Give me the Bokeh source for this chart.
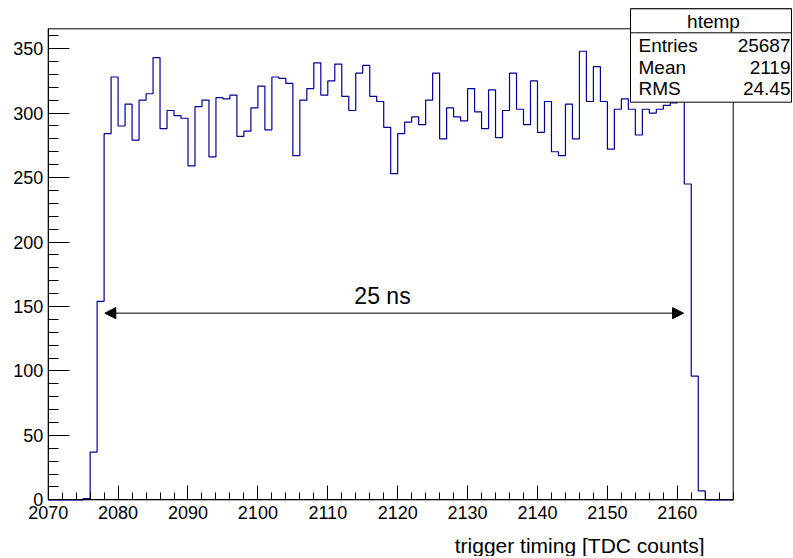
from bokeh.plotting import figure
from bokeh.models import (Range1d, SingleIntervalTicker, Label, BoxAnnotation,
                          Arrow, NormalHead, LinearAxis)
from bokeh.embed import file_html
from bokeh.resources import INLINE

# ---- data ----
bin_low = list(range(2070, 2168))
counts = [0, 0, 0, 0, 0, 1, 37, 154, 284, 328,
          290, 307, 279, 310, 315, 343, 288, 302, 298, 296,
          259, 305, 310, 266, 312, 311, 314, 282, 286, 304,
          321, 287, 328, 327, 323, 267, 310, 319, 339, 314,
          325, 338, 313, 302, 331, 337, 313, 309, 289, 253,
          284, 293, 297, 291, 310, 331, 280, 304, 297, 294,
          319, 301, 288, 318, 281, 302, 331, 303, 291, 325,
          285, 309, 270, 267, 307, 280, 348, 309, 336, 309,
          272, 303, 311, 303, 283, 303, 300, 303, 306, 308,
          312, 245, 96, 7, 0, 0, 0, 0]
stat_names = ["Entries", "Mean", "RMS"]
stat_values = ["25687", "2119", "24.45"]
hist_name = "htemp"
x_title = "trigger timing [TDC counts]"
arrow_text = "25 ns"
arrow_from = 2078.1
arrow_to = 2160.9
arrow_y = 144.8

FONT = "Liberation Sans"

# ---- layout (pixels) ----
W, H = 792, 556
FL, FR, FT, FB = 47.7, 732.7, 28.3, 499.3   # frame edges in pixels

xmin, xmax = 2070, 2168
ymin, ymax = 0, max(counts) * 1.05
sx = (FR - FL) / (xmax - xmin)
sy = (FB - FT) / (ymax - ymin)

x_range = Range1d(xmin - FL / sx, xmin + (W - FL) / sx)
y_range = Range1d(ymin - (H - FB) / sy, ymin + FB / sy)

def dx(px):
    return xmin + (px - FL) / sx

def dy(py):
    return ymin + (FB - py) / sy

p = figure(width=W, height=H, output_backend="svg", toolbar_location=None,
           x_range=x_range, y_range=y_range, x_axis_type=None, y_axis_type=None,
           min_border=0, min_border_left=0, min_border_right=0,
           min_border_top=0, min_border_bottom=0)
p.background_fill_color = "white"
p.border_fill_color = "white"
p.outline_line_color = None
p.grid.visible = False

# frame box
p.add_layout(BoxAnnotation(left=xmin, right=xmax, bottom=ymin, top=ymax,
                           fill_color=None, line_color="black", line_width=1,
                           line_alpha=1.0, level="underlay"))

# histogram
edges = bin_low + [bin_low[-1] + 1]
yy = counts + [counts[-1]]
p.step(edges, yy, mode="after", line_color="#000099", line_width=1.2)

# axes
xaxis = LinearAxis(fixed_location=ymin, bounds=(xmin, xmax),
                   ticker=SingleIntervalTicker(interval=10, num_minor_ticks=5))
yaxis = LinearAxis(fixed_location=xmin, bounds=(ymin, ymax),
                   ticker=SingleIntervalTicker(interval=50, num_minor_ticks=5))
for ax in (xaxis, yaxis):
    ax.axis_line_color = "black"
    ax.major_tick_line_color = "black"
    ax.minor_tick_line_color = "black"
    ax.major_tick_out = 0
    ax.minor_tick_out = 0
    ax.major_label_text_font = FONT
    ax.major_label_text_font_size = "18px"
    ax.major_label_text_color = "black"
xaxis.major_tick_in = 14
xaxis.minor_tick_in = 7
yaxis.major_tick_in = 21
yaxis.minor_tick_in = 10
xaxis.major_label_standoff = 6
yaxis.major_label_standoff = 5
p.add_layout(xaxis, "below")
p.add_layout(yaxis, "left")

# axis title (right aligned)
p.add_layout(Label(x=dx(704), y=dy(545), text=x_title, text_align="right",
                   text_baseline="middle", text_font=FONT,
                   text_font_size="21px", text_color="black"))

# arrow with text
p.add_layout(Arrow(x_start=arrow_from, x_end=arrow_to, y_start=arrow_y, y_end=arrow_y,
                   line_color="black", line_width=1,
                   start=NormalHead(size=11, fill_color="black", line_color="black"),
                   end=NormalHead(size=11, fill_color="black", line_color="black")))
p.add_layout(Label(x=dx(382), y=dy(295), text=arrow_text,
                   text_align="center", text_baseline="middle", text_font=FONT,
                   text_font_size="23px", text_color="black"))

# stats box
bl, br, bt, bb, bs = dx(630), dx(791), dy(8.3), dy(101.7), dy(32.3)
p.add_layout(BoxAnnotation(left=bl, right=br, top=bt, bottom=bb,
                           fill_color="white", fill_alpha=1.0,
                           line_color="black", line_width=1, line_alpha=1.0))
p.add_layout(BoxAnnotation(left=bl, right=br, top=bt, bottom=bs,
                           fill_color="white", fill_alpha=1.0,
                           line_color="black", line_width=1, line_alpha=1.0))
p.add_layout(Label(x=dx(713), y=dy(20.5), text=hist_name, text_align="center",
                   text_baseline="middle", text_font=FONT, text_font_size="19px",
                   text_color="black"))
row_y = [45, 66.7, 88.3]
for name, val, ry in zip(stat_names, stat_values, row_y):
    p.add_layout(Label(x=dx(638), y=dy(ry), text=name, text_align="left",
                       text_baseline="middle", text_font=FONT,
                       text_font_size="19px", text_color="black"))
    p.add_layout(Label(x=dx(790), y=dy(ry), text=val, text_align="right",
                       text_baseline="middle", text_font=FONT,
                       text_font_size="19px", text_color="black"))

open("out.html", "w").write(file_html(p, INLINE))
